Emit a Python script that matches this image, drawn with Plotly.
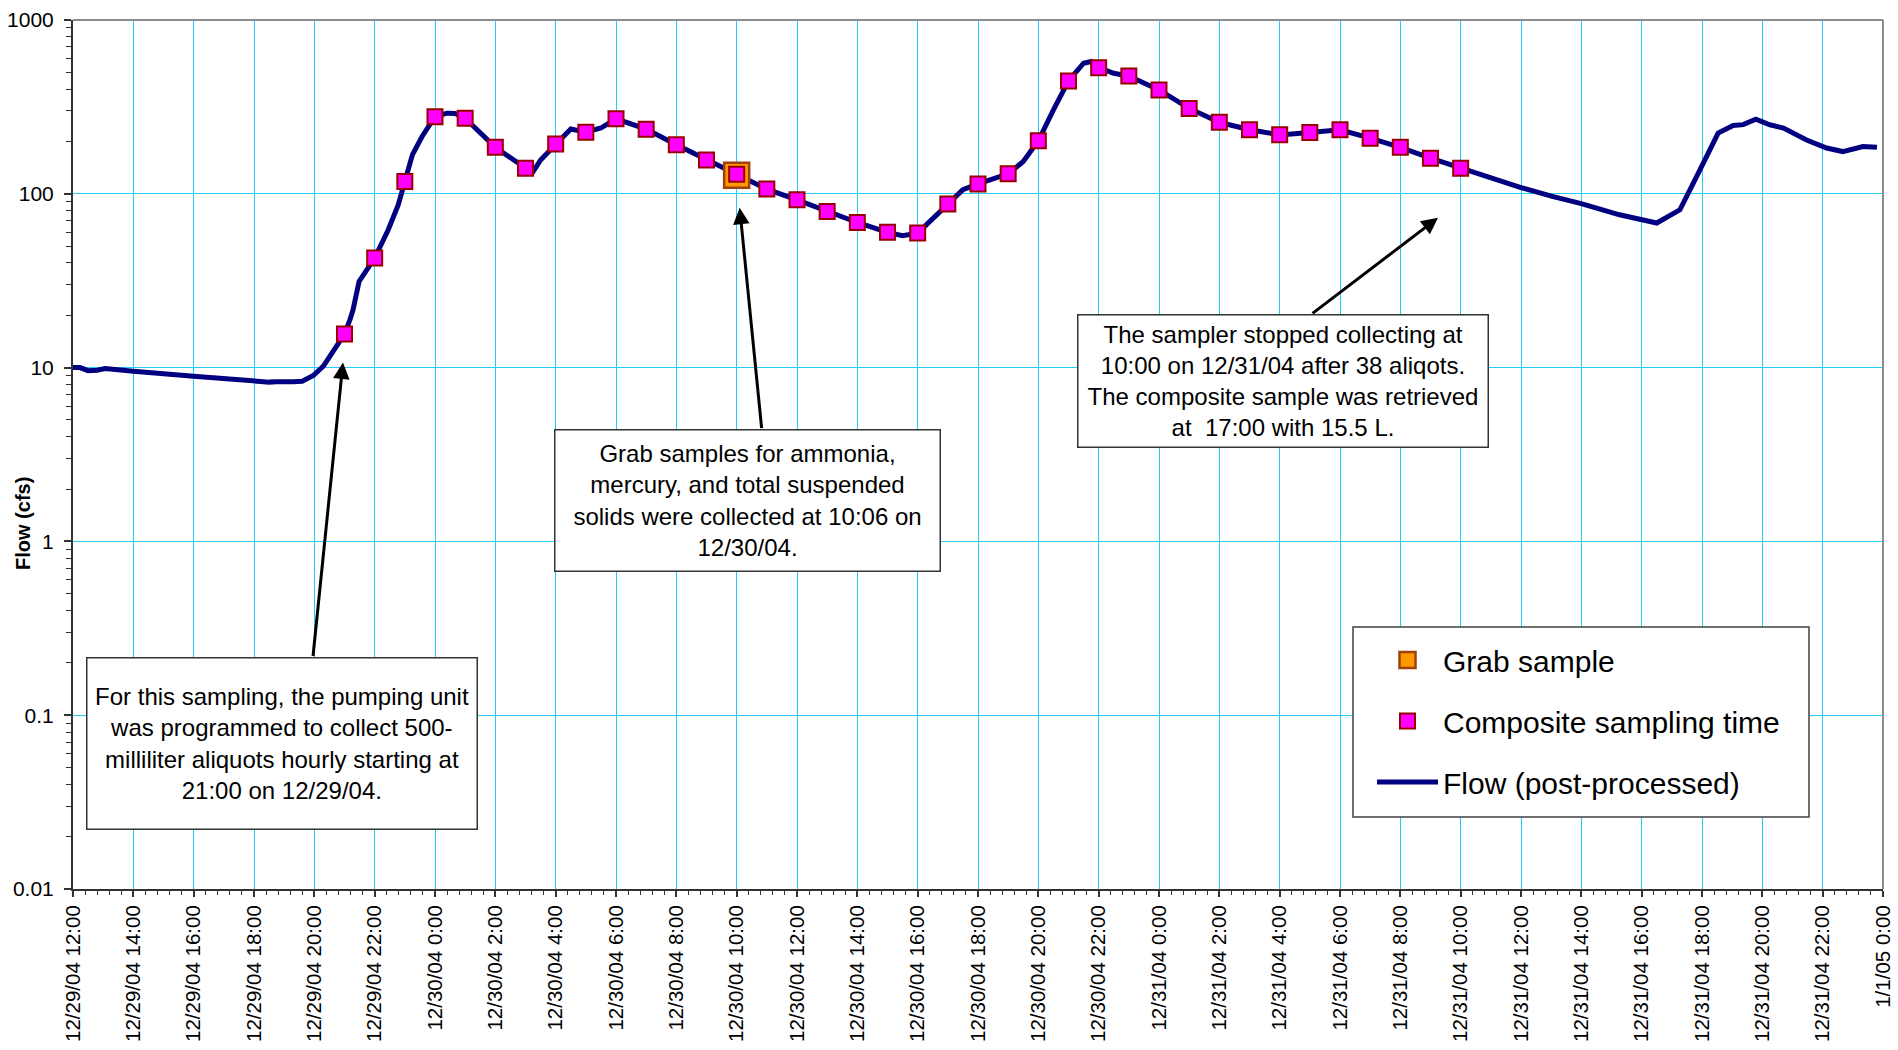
import math
import plotly.graph_objects as go
import pandas as pd

# ---------------- data ----------------
flow_time = [
    "2004-12-29 11:32", "2004-12-29 12:14", "2004-12-29 12:30", "2004-12-29 12:48", "2004-12-29 13:04",
    "2004-12-29 13:20", "2004-12-29 14:00", "2004-12-29 16:00", "2004-12-29 17:18", "2004-12-29 18:30",
    "2004-12-29 18:45", "2004-12-29 19:00", "2004-12-29 19:18", "2004-12-29 19:36", "2004-12-29 19:58",
    "2004-12-29 20:18", "2004-12-29 20:36", "2004-12-29 21:00", "2004-12-29 21:11", "2004-12-29 21:17",
    "2004-12-29 21:29", "2004-12-29 21:44", "2004-12-29 22:00", "2004-12-29 22:27", "2004-12-29 22:47",
    "2004-12-29 23:00", "2004-12-29 23:15", "2004-12-29 23:34", "2004-12-30 00:00", "2004-12-30 00:24",
    "2004-12-30 00:40", "2004-12-30 01:00", "2004-12-30 02:00", "2004-12-30 03:00", "2004-12-30 03:15",
    "2004-12-30 03:30", "2004-12-30 04:00", "2004-12-30 04:30", "2004-12-30 05:00", "2004-12-30 05:30",
    "2004-12-30 06:00", "2004-12-30 07:00", "2004-12-30 08:00", "2004-12-30 09:00", "2004-12-30 10:00",
    "2004-12-30 11:00", "2004-12-30 12:00", "2004-12-30 13:00", "2004-12-30 14:00", "2004-12-30 15:00",
    "2004-12-30 15:30", "2004-12-30 16:00", "2004-12-30 17:00", "2004-12-30 17:30", "2004-12-30 18:00",
    "2004-12-30 19:00", "2004-12-30 19:30", "2004-12-30 20:00", "2004-12-30 20:30", "2004-12-30 21:00",
    "2004-12-30 21:30", "2004-12-30 21:45", "2004-12-30 22:00", "2004-12-30 22:30", "2004-12-30 23:00",
    "2004-12-31 00:00", "2004-12-31 01:00", "2004-12-31 02:00", "2004-12-31 03:00", "2004-12-31 04:00",
    "2004-12-31 05:00", "2004-12-31 06:00", "2004-12-31 07:00", "2004-12-31 08:00", "2004-12-31 09:00",
    "2004-12-31 10:00", "2004-12-31 10:52", "2004-12-31 12:00", "2004-12-31 13:04", "2004-12-31 14:00",
    "2004-12-31 15:16", "2004-12-31 16:02", "2004-12-31 16:30", "2004-12-31 17:16", "2004-12-31 17:30",
    "2004-12-31 17:46", "2004-12-31 18:09", "2004-12-31 18:32", "2004-12-31 19:02", "2004-12-31 19:22",
    "2004-12-31 19:47", "2004-12-31 20:15", "2004-12-31 20:42", "2004-12-31 21:28", "2004-12-31 22:08",
    "2004-12-31 22:40", "2004-12-31 23:20", "2004-12-31 23:48",
]
flow_cfs = [
    10.0, 10.0, 9.6, 9.65, 9.87,
    9.8, 9.53, 8.91, 8.53, 8.25,
    8.3, 8.25, 8.3, 8.35, 9.0,
    10.2, 12.4, 15.6, 18.9, 21.5,
    31.3, 36.5, 42.7, 62.1, 86.5,
    117.7, 167.5, 213, 278, 291,
    290, 272, 185, 140.5, 134,
    156.6, 193.7, 236, 226, 239,
    270, 235.5, 191.5, 156.6, 129.7,
    106.4, 92.4, 79.1, 68.4, 60.0,
    57.4, 59.4, 87.3, 105.5, 114,
    130.3, 153.5, 201.8, 304, 446,
    564, 577, 532, 494, 476,
    396, 310, 258, 233.6, 218.3,
    225, 233.6, 209, 185, 160.3,
    140.5, 126, 108.6, 96.4, 87.8,
    75.7, 71, 67.9, 80.9, 96.4,
    120.2, 163.7, 223.5, 247, 250,
    268.5, 249.5, 239, 204, 183.3,
    175, 187, 185,
]

comp_time = pd.date_range("2004-12-29 21:00", "2004-12-31 10:00", freq="h")
comp_cfs = [
    15.6, 42.7, 117.7,
    278, 272, 185, 140.5, 193.7, 226, 270, 235.5, 191.5, 156.6, 129.7, 106.4,
    92.4, 79.1, 68.4, 60.0, 59.4, 87.3, 114, 130.3, 201.8, 446, 532, 476,
    396, 310, 258, 233.6, 218.3, 225, 233.6, 209, 185, 160.3, 140.5,
]

grab_time = ["2004-12-30 10:00"]
grab_cfs = [128]

y_tickvals = [0.01, 0.1, 1, 10, 100, 1000]
y_ticktext = ["0.01", "0.1", "1", "10", "100", "1000"]

# arrow tips (time, flow) for the three call-outs
arrow_tip_time = ["2004-12-29 20:57", "2004-12-30 10:06", "2004-12-31 09:15"]
arrow_tip_cfs = [10.7, 83.2, 72.8]

FONT = "Liberation Sans, Arial, sans-serif"
GRID = "#22CCFF"

fig = go.Figure()
fig.add_trace(go.Scatter(
    x=flow_time, y=flow_cfs, mode="lines", name="Flow (post-processed)",
    line=dict(color="#000080", width=5), legendgroup="c", legendrank=3,
))
fig.add_trace(go.Scatter(
    x=grab_time, y=grab_cfs, mode="markers", name="Grab sample",
    marker=dict(symbol="square", size=25, color="#FF9900", line=dict(color="#A0400A", width=2.5)),
    legendgroup="a", legendrank=1, cliponaxis=False,
))
fig.add_trace(go.Scatter(
    x=comp_time, y=comp_cfs, mode="markers", name="Composite sampling time",
    marker=dict(symbol="square", size=15, color="#FF00FF", line=dict(color="#990000", width=2)),
    legendgroup="b", legendrank=2, cliponaxis=False,
))

fig.update_xaxes(
    type="date", automargin=False,
    range=["2004-12-29 12:00", "2005-01-01 00:00"],
    tick0="2004-12-29 12:00", dtick=2 * 3600 * 1000,
    tickformat="%-m/%-d/%y %-H:%M", tickangle=-90,
    tickfont=dict(family=FONT, size=20.5, color="black"),
    ticks="outside", ticklen=6, tickwidth=1.5, tickcolor="#333",
    ticklabelstandoff=0,
    showgrid=True, gridcolor=GRID, gridwidth=1,
    showline=True, linecolor="#333", linewidth=2,
    minor=dict(dtick=24 * 60 * 1000, tick0="2004-12-29 12:00", ticks="outside",
               ticklen=4, tickwidth=1, tickcolor="#333", showgrid=False),
    zeroline=False,
)
fig.update_yaxes(
    type="log", range=[-2, 3], automargin=False,
    tickmode="array", tickvals=y_tickvals, ticktext=y_ticktext,
    tickfont=dict(family=FONT, size=21, color="black"),
    ticks="outside", ticklen=7, tickwidth=1.5, tickcolor="#333",
    ticklabelstandoff=6,
    showgrid=True, gridcolor=GRID, gridwidth=1,
    showline=True, linecolor="#333", linewidth=2,
    minor=dict(dtick="D1", ticks="outside", ticklen=5, tickwidth=1, tickcolor="#333", showgrid=False),
    zeroline=False,
)

PL, PR, PT, PB = 73, 1883, 20, 889
PW, PH = PR - PL, PB - PT


def px(x):
    return (x - PL) / PW


def py(y):
    return (PB - y) / PH


shapes = [
    # plot-area frame (top & right)
    dict(type="line", xref="paper", yref="paper", x0=0, x1=1, y0=1, y1=1,
         line=dict(color="#8C8C8C", width=2), layer="above"),
    dict(type="line", xref="paper", yref="paper", x0=1, x1=1, y0=0, y1=1,
         line=dict(color="#8C8C8C", width=2), layer="above"),
    # legend frame
    dict(type="rect", xref="paper", yref="paper",
         x0=px(1353), x1=px(1809), y0=py(817), y1=py(627),
         fillcolor="white", line=dict(color="#404040", width=1.5), layer="above"),
]

box_font = dict(family=FONT, size=24, color="black")
annotations = []

boxes = [
    ("For this sampling, the pumping unit<br>was programmed to collect 500-<br>"
     "milliliter aliquots hourly starting at<br>21:00 on 12/29/04.", 86, 657, 478, 830),
    ("Grab samples for ammonia,<br>mercury, and total suspended<br>"
     "solids were collected at 10:06 on<br>12/30/04.", 554, 429, 941, 572),
    ("The sampler stopped collecting at<br>10:00 on 12/31/04 after 38 aliqots.<br>"
     "The composite sample was retrieved<br>at\u00a0 17:00 with 15.5 L.", 1077, 314, 1489, 448),
]

# tail offsets of arrows (pixels from the tip)
arrow_tail = [(-30, 294), (22, 221), (-126, 96)]
for xt, yt, (ax, ay) in zip(arrow_tip_time, arrow_tip_cfs, arrow_tail):
    annotations.append(dict(
        x=xt, y=math.log10(yt), xref="x", yref="y", text="", showarrow=True,
        ax=ax, ay=ay, axref="pixel", ayref="pixel",
        arrowhead=2, arrowsize=1.1, arrowwidth=3, arrowcolor="black",
        borderpad=0,
    ))

for text, x0, y0, x1, y1 in boxes:
    annotations.append(dict(
        x=px((x0 + x1) / 2), y=py((y0 + y1) / 2), xref="paper", yref="paper",
        xanchor="center", yanchor="middle", text=text, showarrow=False,
        align="center", font=box_font, bgcolor="white",
        bordercolor="#333", borderwidth=1.5, borderpad=0,
        width=x1 - x0 - 3, height=y1 - y0 - 3,
    ))

annotations.append(dict(
    x=px(23), y=py(524), xref="paper", yref="paper", xanchor="center", yanchor="middle",
    text="<b>Flow (cfs)</b>", textangle=-90, showarrow=False,
    font=dict(family=FONT, size=20, color="black"),
))

fig.update_layout(
    width=1898, height=1050, autosize=False,
    margin=dict(l=PL, r=1898 - PR, t=PT, b=1050 - PB, pad=0, autoexpand=False),
    paper_bgcolor="white", plot_bgcolor="white",
    font=dict(family=FONT, color="black"),
    showlegend=True,
    legend=dict(
        x=px(1372), y=py(634), xanchor="left", yanchor="top",
        bgcolor="rgba(0,0,0,0)", borderwidth=0,
        font=dict(family=FONT, size=30, color="black"),
        itemwidth=61, tracegroupgap=19, traceorder="grouped",
        itemsizing="trace",
    ),
    shapes=shapes,
    annotations=annotations,
)

fig.write_html(
    "out.html",
    config={"displayModeBar": False},
    post_script="document.body.style.margin='0';document.body.style.overflow='hidden';",
)
